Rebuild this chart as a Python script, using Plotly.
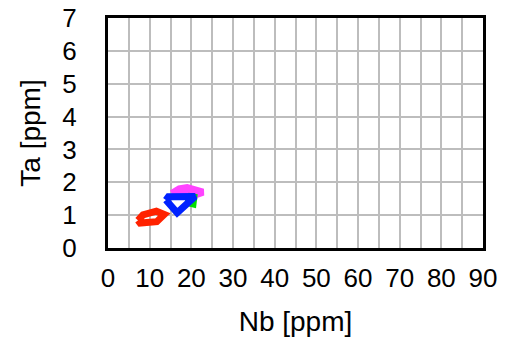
import plotly.graph_objects as go

# Field outlines (Nb, Ta) in ppm
red_nb = [7.2, 8.4, 11.6, 13.5, 11.7, 7.7, 7.2]
red_ta = [0.84, 1.01, 1.12, 1.02, 0.80, 0.76, 0.84]

magenta_nb = [15.3, 17.1, 19.0, 22.8, 21.1, 15.6, 15.3]
magenta_ta = [1.66, 1.80, 1.84, 1.70, 1.62, 1.62, 1.66]

green_nb = [19.2, 20.6, 20.4, 19.4, 19.2]
green_ta = [1.58, 1.55, 1.34, 1.37, 1.58]

blue_nb = [13.9, 14.5, 20.9, 16.6, 13.9]
blue_ta = [1.46, 1.56, 1.57, 1.07, 1.46]

series = [
    (red_nb, red_ta, "#FF2200"),
    (magenta_nb, magenta_ta, "#FF44FF"),
    (green_nb, green_ta, "#00DD00"),
    (blue_nb, blue_ta, "#0022FF"),
]

fig = go.Figure()
for xs, ys, col in series:
    fig.add_trace(go.Scatter(x=xs, y=ys, mode="lines",
                             line=dict(color=col, width=7),
                             showlegend=False, hoverinfo="skip"))

font_family = "Liberation Sans, Arial, Helvetica, sans-serif"
fig.update_layout(
    width=507, height=345,
    margin=dict(l=108, r=24, t=18, b=97),
    plot_bgcolor="white", paper_bgcolor="white",
    font=dict(family=font_family, color="black"),
)
fig.update_xaxes(
    range=[0, 90], tickmode="array", tickvals=list(range(0, 91, 10)),
    showgrid=True, gridcolor="#BDBDBD", gridwidth=2,
    minor=dict(dtick=5, showgrid=True, gridcolor="#BDBDBD", gridwidth=2),
    showline=True, linecolor="black", linewidth=3, mirror=True,
    ticks="", tickfont=dict(size=26), ticklabelstandoff=5,
    title=dict(text="Nb [ppm]", font=dict(size=28), standoff=20),
    zeroline=False, automargin=False,
)
fig.update_yaxes(
    range=[0, 7], tickmode="array", tickvals=list(range(0, 8)),
    showgrid=True, gridcolor="#BDBDBD", gridwidth=2,
    showline=True, linecolor="black", linewidth=3, mirror=True,
    ticks="", tickfont=dict(size=26), ticklabelstandoff=23,
    title=dict(text="Ta [ppm]", font=dict(size=28), standoff=14),
    zeroline=False, automargin=False,
)
fig.write_html("out.html")
